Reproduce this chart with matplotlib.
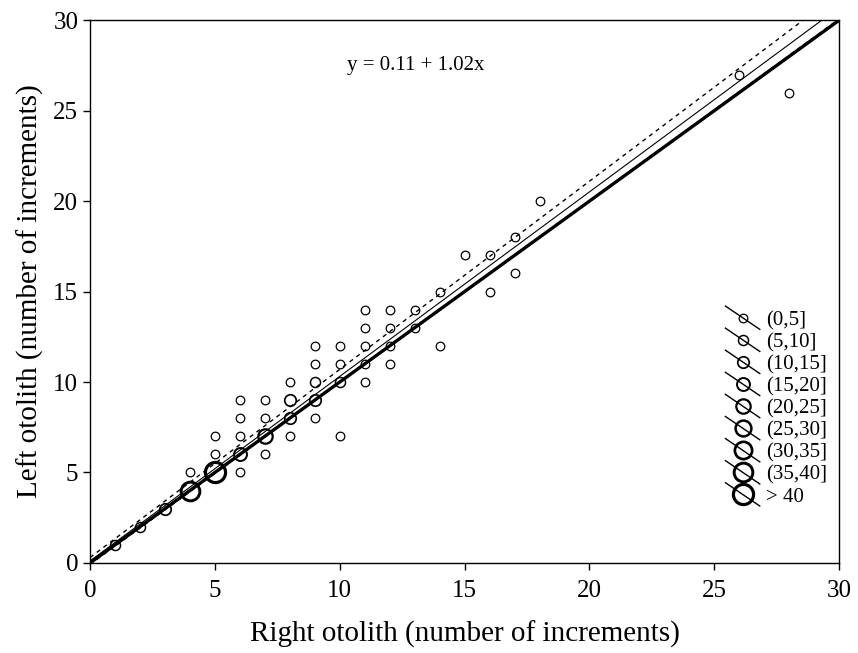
import numpy as np
import matplotlib
matplotlib.use("Agg")
import matplotlib.pyplot as plt
from matplotlib.lines import Line2D
from matplotlib.legend_handler import HandlerBase

plt.rcParams['font.family'] = ['Liberation Serif', 'DejaVu Serif']

# otolith increment pairs (right, left) and number of fish at each pair
right = [1, 2, 3, 4, 4, 5, 5, 5, 6, 6, 6, 6, 6, 7, 7, 7, 7, 8, 8, 8, 8,
         9, 9, 9, 9, 9, 10, 10, 10, 10, 11, 11, 11, 11, 11, 12, 12, 12, 12,
         13, 13, 14, 14, 15, 16, 16, 17, 17, 18, 26, 28]
left = [1, 2, 3, 4, 5, 5, 6, 7, 5, 6, 7, 8, 9, 6, 7, 8, 9, 7, 8, 9, 10,
        8, 9, 10, 11, 12, 7, 10, 11, 12, 10, 11, 12, 13, 14, 11, 12, 13, 14,
        13, 14, 12, 15, 17, 15, 17, 16, 18, 20, 27, 26]
count = [7, 8, 12, 38, 3, 45, 3, 3, 3, 17, 3, 3, 3, 3, 22, 3, 3, 3, 12, 12, 3,
         3, 12, 7, 3, 3, 3, 7, 3, 3, 3, 3, 3, 3, 3, 3, 3, 3, 3,
         3, 3, 3, 3, 3, 3, 3, 3, 3, 3, 3, 3]

bin_edges = [0, 5, 10, 15, 20, 25, 30, 35, 40]
bin_labels = ['(0,5]', '(5,10]', '(10,15]', '(15,20]', '(20,25]',
              '(25,30]', '(30,35]', '(35,40]', '> 40']

intercept, slope = 0.11, 1.02
ci_hi = (0.30, 1.040)
ci_lo = (-0.08, 1.005)

msizes = np.linspace(6.2, 14.5, len(bin_labels))
mwidths = np.linspace(0.9, 2.3, len(bin_labels))

fig = plt.figure(figsize=(8.58, 6.53), dpi=100)
ax = fig.add_axes([0.105, 0.138, 0.873, 0.831])

xx = np.array([0, 30])
ax.plot(xx, xx, color='black', lw=2.4, zorder=3)
ax.plot(xx, intercept + slope * xx, color='black', lw=0.8, zorder=3)
ax.plot(xx, ci_hi[0] + ci_hi[1] * xx, color='black', lw=1.0, ls=(0, (3, 3)), zorder=3)
ax.plot(xx, ci_lo[0] + ci_lo[1] * xx, color='black', lw=1.0, ls=(0, (3, 3)), zorder=3)

bins = np.digitize(count, bin_edges[1:], right=True)
for i, lab in enumerate(bin_labels):
    sel = bins == i
    if sel.any():
        ax.plot(np.array(right)[sel], np.array(left)[sel], 'o', mfc='none', mec='black',
                ms=msizes[i], mew=mwidths[i], zorder=4)


class HandlerSlash(HandlerBase):
    def create_artists(self, legend, orig_handle, xdescent, ydescent, width,
                       height, fontsize, trans):
        x0, x1 = -xdescent, -xdescent + width
        y0, y1 = -ydescent - 0.3 * height, -ydescent + 1.3 * height
        ln = Line2D([x0, x1], [y1, y0], color='black', lw=1.0, transform=trans)
        mk = Line2D([(x0 + x1) / 2], [(y0 + y1) / 2], marker='o', ls='none',
                    mfc='none', mec='black', ms=orig_handle.get_markersize(),
                    mew=orig_handle.get_markeredgewidth(), transform=trans)
        return [ln, mk]


handles = [Line2D([], [], marker='o', ls='none', mfc='none', mec='black',
                  ms=msizes[i], mew=mwidths[i]) for i in range(len(bin_labels))]
ax.legend(handles, bin_labels, handler_map={Line2D: HandlerSlash()},
          frameon=False, fontsize=15, handlelength=1.65, handletextpad=0.3,
          labelspacing=0.12, borderpad=0, loc='upper left',
          bbox_to_anchor=(715 / 858, 1 - 300 / 653), bbox_transform=fig.transFigure)

ax.text(10.3, 27.5, 'y = 0.11 + 1.02x', fontsize=15, va='center', ha='left')

ax.set_xlim(0, 30)
ax.set_ylim(0, 30)
ax.set_xticks(range(0, 31, 5))
ax.set_yticks(range(0, 31, 5))
ax.tick_params(direction='out', length=5, width=1, labelsize=18, top=False, right=False)
ax.tick_params(axis='x', pad=7)
for s in ax.spines.values():
    s.set_linewidth(1)
ax.set_xlabel('Right otolith (number of increments)', fontsize=21, labelpad=14)
ax.set_ylabel('Left otolith (number of increments)', fontsize=21, labelpad=7)

fig.savefig('out.png', dpi=100)
